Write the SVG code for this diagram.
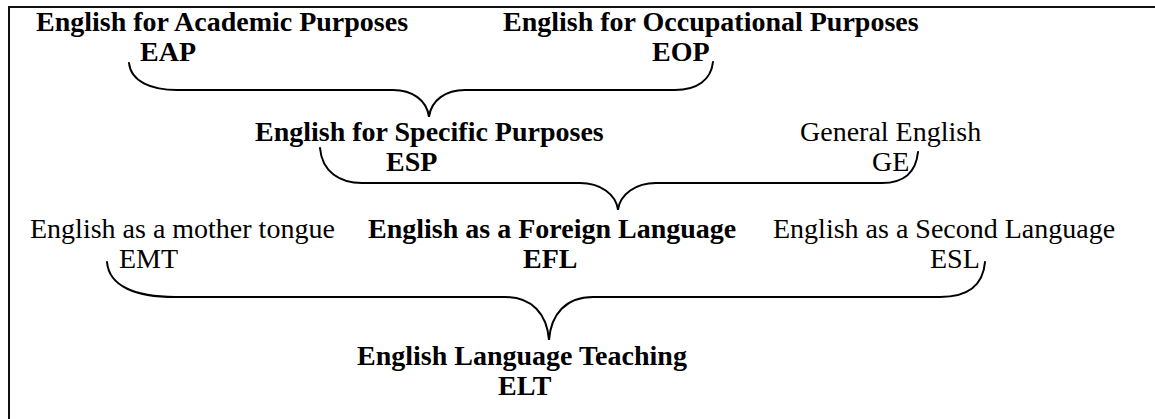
<svg xmlns="http://www.w3.org/2000/svg" width="1155" height="419" viewBox="0 0 1155 419">
  <style>
    text { font-family: "Liberation Serif", "Times New Roman", serif; font-size: 28px; fill: #000; }
    .b { font-weight: bold; }
    .brace { fill: none; stroke: #000; stroke-width: 2; stroke-linecap: round; }
    .frame { fill: none; stroke: #111; stroke-width: 2; }
  </style>
  <rect width="1155" height="419" fill="#fff"/>

  <!-- page frame: only top and left edges fall inside the view -->
  <path class="frame" d="M9,419 V7 H1155"/>

  <g id="eap"><text class="b" x="36" y="31">English for Academic Purposes</text><text class="b" x="140" y="61">EAP</text></g>
  <g id="eop"><text class="b" x="503" y="31">English for Occupational Purposes</text><text class="b" x="652" y="61">EOP</text></g>
  <g id="esp"><text class="b" x="255" y="141">English for Specific Purposes</text><text class="b" x="386" y="171">ESP</text></g>
  <g id="ge"><text x="800" y="141">General English</text><text x="872" y="171">GE</text></g>
  <g id="emt"><text x="30" y="238">English as a mother tongue</text><text x="119" y="268">EMT</text></g>
  <g id="efl"><text class="b" x="368" y="238">English as a Foreign Language</text><text class="b" x="523" y="268">EFL</text></g>
  <g id="esl"><text x="773" y="238">English as a Second Language</text><text x="930" y="268">ESL</text></g>
  <g id="elt"><text class="b" x="357" y="365">English Language Teaching</text><text class="b" x="498" y="395">ELT</text></g>

  <g id="connectors">
    <!-- EAP + EOP -> ESP -->
    <path class="brace" d="M129,63 C131,82 152,90 177,90 L393,90 C412,90 427,100 429,117 C431,100 446,90 465,90 L675,90 C697,90 711,80 713,62"/>
    <!-- ESP + GE -> EFL -->
    <path class="brace" d="M320,148 C322,172 340,183 362,183 L580,183 C600,183 616,194 618,210 C620,194 636,183 656,183 L882,183 C904,183 916,172 918,152"/>
    <!-- EMT + EFL + ESL -> ELT -->
    <path class="brace" d="M107,262 C109,286 135,297 175,297 L505,297 C532,297 547,314 549,340 C551,314 566,297 593,297 L940,297 C967,297 983,286 985,262"/>
  </g>
</svg>
